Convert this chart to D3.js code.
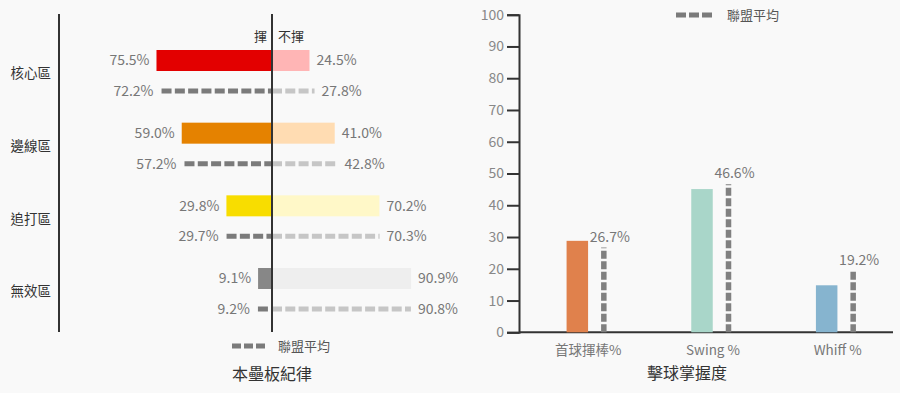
<!DOCTYPE html>
<html><head><meta charset="utf-8">
<script src="https://cdn.jsdelivr.net/npm/d3@7"></script>
<style>
html,body{margin:0;padding:0;background:#f9f9f9;}
svg{display:block;font-family:"Noto Sans CJK TC","Noto Sans",sans-serif;}
</style></head>
<body><svg id="c" width="900" height="393"></svg>
<script>
// ---- Left chart data (本壘板紀律) ----
const zones = ["核心區","邊線區","追打區","無效區"];
const swingPct = [75.5, 59.0, 29.8, 9.1];
const noSwingPct = [24.5, 41.0, 70.2, 90.9];
const leagueSwing = [72.2, 57.2, 29.7, 9.2];
const leagueNoSwing = [27.8, 42.8, 70.3, 90.8];
const zoneDark = ["#e30000","#e58200","#f8dd00","#878787"];
const zoneLight = ["#ffb5b5","#ffdcb2","#fff8c8","#eeeeee"];

// ---- Right chart data (擊球掌握度) ----
const metrics = ["首球揮棒%","Swing %","Whiff %"];
const playerVals = [28.8, 45.1, 14.8];
const leagueVals = [26.7, 46.6, 19.2];
const metricColors = ["#e0814c","#a9d6c9","#86b4cf"];
const yTicks = [0,10,20,30,40,50,60,70,80,90,100];

const svg = d3.select("#c");
const fmt = v => v.toFixed(1) + "%";

// ================= LEFT =================
const cx = 272;
const wL = d3.scaleLinear().domain([0,100]).range([0,153]);
const yG = d3.scalePoint().domain(zones).range([60.5, 278.5]);
const dashOff = 30.5, barH = 21;
const L = svg.append("g");

zones.forEach((z,i)=>{
  const yc = yG(z);
  // bars
  L.append("rect").attr("x", cx - wL(swingPct[i])).attr("y", yc - barH/2)
    .attr("width", wL(swingPct[i])).attr("height", barH).attr("fill", zoneDark[i]);
  L.append("rect").attr("x", cx).attr("y", yc - barH/2)
    .attr("width", wL(noSwingPct[i])).attr("height", barH).attr("fill", zoneLight[i]);
  // league dashed
  const yd = yc + dashOff;
  L.append("line").attr("x1", cx - wL(leagueSwing[i])).attr("x2", cx)
    .attr("y1", yd).attr("y2", yd).attr("stroke","#7b7b7b").attr("stroke-width",5)
    .attr("stroke-dasharray","10,3.3");
  L.append("line").attr("x1", cx).attr("x2", cx + wL(leagueNoSwing[i]))
    .attr("y1", yd).attr("y2", yd).attr("stroke","#c6c6c6").attr("stroke-width",5)
    .attr("stroke-dasharray","10,3.3");
  // labels
  const tl = (x,y,t,anchor)=>L.append("text").attr("x",x).attr("y",y).attr("dy","0.35em")
    .attr("text-anchor",anchor).attr("font-size",14).attr("fill","#777").text(t);
  tl(cx - wL(swingPct[i]) - 7, yc, fmt(swingPct[i]), "end");
  tl(cx + wL(noSwingPct[i]) + 7, yc, fmt(noSwingPct[i]), "start");
  tl(cx - wL(leagueSwing[i]) - 8, yd, fmt(leagueSwing[i]), "end");
  tl(cx + wL(leagueNoSwing[i]) + 7, yd, fmt(leagueNoSwing[i]), "start");
  // category
  L.append("text").attr("x", 51).attr("y", yc + 13).attr("dy","0.35em")
    .attr("text-anchor","end").attr("font-size",13.5).attr("fill","#333").text(z);
});
// axes lines
L.append("line").attr("x1",59).attr("x2",59).attr("y1",14).attr("y2",332)
  .attr("stroke","#333").attr("stroke-width",2);
L.append("line").attr("x1",cx).attr("x2",cx).attr("y1",14).attr("y2",332)
  .attr("stroke","#333").attr("stroke-width",2);
// headers
L.append("text").attr("x",cx-5).attr("y",36).attr("dy","0.35em").attr("text-anchor","end")
  .attr("font-size",13).attr("fill","#333").text("揮");
L.append("text").attr("x",cx+6).attr("y",36).attr("dy","0.35em").attr("text-anchor","start")
  .attr("font-size",13).attr("fill","#333").text("不揮");
// legend
L.append("line").attr("x1",232).attr("x2",265).attr("y1",346).attr("y2",346)
  .attr("stroke","#7b7b7b").attr("stroke-width",5).attr("stroke-dasharray","9,3");
L.append("text").attr("x",278).attr("y",346).attr("dy","0.35em").attr("font-size",13)
  .attr("fill","#555").text("聯盟平均");
L.append("text").attr("x",272).attr("y",374).attr("dy","0.35em").attr("text-anchor","middle")
  .attr("font-size",16).attr("fill","#333").text("本壘板紀律");

// ================= RIGHT =================
const R = svg.append("g");
const y = d3.scaleLinear().domain([0,100]).range([332.3, 14.7]);
const x = d3.scaleBand().domain(metrics).range([519, 893]);
const yAxis = R.append("g").attr("transform","translate(519,0)")
  .call(d3.axisLeft(y).tickValues(yTicks).tickSize(12).tickPadding(3));
yAxis.selectAll("path,line").attr("stroke","#333").attr("stroke-width",2);
yAxis.selectAll("text").attr("font-size",14).attr("fill","#888")
  .attr("font-family","'Noto Sans CJK TC','Noto Sans',sans-serif");
R.append("line").attr("x1",519).attr("x2",893).attr("y1",y(0)).attr("y2",y(0))
  .attr("stroke","#333").attr("stroke-width",2);

metrics.forEach((m,i)=>{
  const c = x(m) + x.bandwidth()/2;
  R.append("rect").attr("x", c - 4 - 10.75).attr("y", y(playerVals[i]))
    .attr("width", 21.5).attr("height", y(0) - y(playerVals[i])).attr("fill", metricColors[i]);
  const dx = c + 22.5;
  R.append("line").attr("x1",dx).attr("x2",dx).attr("y1",y(0)).attr("y2",y(leagueVals[i]))
    .attr("stroke","#808080").attr("stroke-width",5.5).attr("stroke-dasharray","8,2.5");
  R.append("text").attr("x",dx + 6).attr("y",y(leagueVals[i]) - 6).attr("text-anchor","middle")
    .attr("font-size",14).attr("fill","#777").text(fmt(leagueVals[i]));
  R.append("text").attr("x", c + 7).attr("y", 350).attr("dy","0.35em").attr("text-anchor","middle")
    .attr("font-size",13.5).attr("fill","#777").text(m);
});
// legend
R.append("line").attr("x1",676).attr("x2",713).attr("y1",15).attr("y2",15)
  .attr("stroke","#7b7b7b").attr("stroke-width",5).attr("stroke-dasharray","10,3");
R.append("text").attr("x",727).attr("y",15).attr("dy","0.35em").attr("font-size",13)
  .attr("fill","#555").text("聯盟平均");
R.append("text").attr("x",687).attr("y",373).attr("dy","0.35em").attr("text-anchor","middle")
  .attr("font-size",16).attr("fill","#333").text("擊球掌握度");
</script></body></html>
